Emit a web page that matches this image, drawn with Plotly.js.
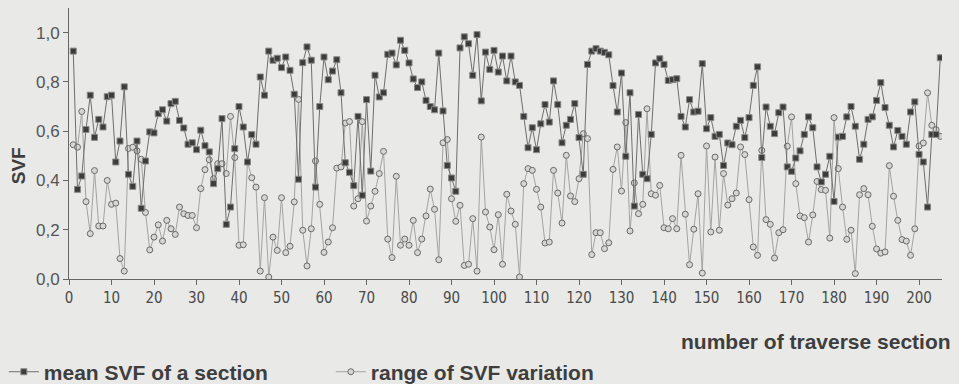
<!DOCTYPE html>
<html>
<head>
<meta charset="utf-8">
<script src="https://cdn.plot.ly/plotly-3.0.1.min.js"></script>
<style>
html,body{margin:0;padding:0;background:#e9e9e7;}
#chart{width:959px;height:384px;}
</style>
</head>
<body>
<div id="chart"></div>
<script>
// traverse section numbers 1..205
var sections = [];
for (var i = 1; i <= 205; i++) sections.push(i);

var meanSVF = [
0.925,0.364,0.418,0.607,0.746,0.575,0.648,0.617,0.74,0.746,
0.475,0.56,0.78,0.425,0.376,0.56,0.287,0.479,0.597,0.593,
0.671,0.687,0.641,0.712,0.721,0.644,0.613,0.547,0.553,0.525,
0.604,0.541,0.516,0.387,0.448,0.651,0.222,0.292,0.529,0.70,
0.617,0.475,0.586,0.547,0.82,0.746,0.925,0.888,0.896,0.858,
0.901,0.847,0.75,0.405,0.878,0.942,0.888,0.373,0.70,0.901,
0.809,0.844,0.89,0.756,0.472,0.433,0.379,0.66,0.34,0.728,
0.438,0.827,0.739,0.756,0.912,0.917,0.869,0.969,0.928,0.877,
0.812,0.777,0.80,0.725,0.70,0.687,0.917,0.682,0.461,0.41,
0.356,0.938,0.983,0.955,0.827,0.992,0.723,0.921,0.851,0.928,
0.84,0.905,0.804,0.905,0.80,0.786,0.66,0.533,0.614,0.525,
0.63,0.708,0.637,0.804,0.708,0.553,0.624,0.648,0.712,0.574,
0.425,0.871,0.925,0.935,0.925,0.92,0.91,0.785,0.678,0.836,
0.498,0.756,0.296,0.668,0.425,0.407,0.587,0.877,0.894,0.871,
0.806,0.809,0.813,0.66,0.617,0.728,0.678,0.681,0.874,0.61,
0.655,0.579,0.587,0.461,0.552,0.545,0.62,0.644,0.574,0.655,
0.786,0.861,0.493,0.698,0.62,0.59,0.675,0.698,0.455,0.437,
0.491,0.52,0.587,0.658,0.614,0.455,0.394,0.425,0.498,0.315,
0.576,0.579,0.658,0.70,0.62,0.486,0.547,0.648,0.658,0.725,
0.797,0.696,0.624,0.536,0.603,0.579,0.547,0.678,0.719,0.506,
0.475,0.292,0.587,0.587,0.898
];

var rangeSVF = [
0.545,0.535,0.68,0.314,0.184,0.44,0.215,0.215,0.40,0.303,
0.308,0.083,0.032,0.53,0.535,0.52,0.486,0.27,0.118,0.17,
0.22,0.154,0.238,0.204,0.181,0.292,0.265,0.258,0.258,0.208,
0.367,0.444,0.484,0.407,0.468,0.468,0.428,0.66,0.493,0.137,
0.139,0.476,0.411,0.373,0.032,0.33,0.008,0.17,0.116,0.33,
0.107,0.133,0.313,0.729,0.198,0.053,0.204,0.479,0.303,0.108,
0.15,0.208,0.45,0.455,0.633,0.639,0.296,0.326,0.639,0.235,
0.296,0.356,0.428,0.518,0.162,0.087,0.417,0.137,0.162,0.137,
0.238,0.107,0.162,0.256,0.365,0.283,0.078,0.553,0.566,0.326,
0.234,0.299,0.055,0.06,0.245,0.032,0.576,0.272,0.211,0.119,
0.261,0.06,0.344,0.276,0.222,0.008,0.387,0.448,0.441,0.364,
0.292,0.146,0.15,0.441,0.349,0.227,0.502,0.337,0.314,0.407,
0.59,0.57,0.099,0.188,0.188,0.123,0.147,0.445,0.536,0.357,
0.635,0.195,0.39,0.265,0.303,0.691,0.346,0.34,0.38,0.208,
0.204,0.245,0.204,0.502,0.263,0.058,0.202,0.346,0.024,0.54,
0.191,0.495,0.198,0.428,0.30,0.326,0.349,0.536,0.505,0.322,
0.13,0.096,0.522,0.241,0.222,0.085,0.188,0.20,0.539,0.658,
0.387,0.256,0.249,0.15,0.26,0.396,0.363,0.36,0.166,0.655,
0.448,0.292,0.161,0.198,0.022,0.342,0.367,0.342,0.214,0.122,
0.105,0.11,0.46,0.336,0.238,0.16,0.154,0.096,0.204,0.54,
0.552,0.756,0.624,0.606,0.579
];

var xTicks = [0,10,20,30,40,50,60,70,80,90,100,110,120,130,140,150,160,170,180,190,200];
var yTicks = [0,0.2,0.4,0.6,0.8,1.0];
var seriesNames = ['mean SVF of a section', 'range of SVF variation'];
var xTitle = 'number of traverse section';
var yTitle = 'SVF';

var narrow = 'DejaVu Sans Condensed, Liberation Sans Narrow, Liberation Sans, Arial';
var boldFont = 'Liberation Sans, Arial';

var traces = [
  {
    x: sections, y: rangeSVF, name: seriesNames[1],
    type: 'scatter', mode: 'lines+markers',
    line: {color: '#a3a3a3', width: 1},
    marker: {symbol: 'circle', size: 6, color: '#d6d6d4', line: {color: '#6a6a6a', width: 1}}
  },
  {
    x: sections, y: meanSVF, name: seriesNames[0],
    type: 'scatter', mode: 'lines+markers',
    line: {color: '#6e6e6e', width: 1},
    marker: {symbol: 'square', size: 6, color: '#3c3c3c', line: {color: '#8a8a8a', width: 1}}
  }
];

var layout = {
  width: 959, height: 384,
  paper_bgcolor: '#e9e9e7', plot_bgcolor: '#e9e9e7',
  margin: {l: 69, r: 17, t: 8, b: 105},
  separators: ',.',
  showlegend: true,
  legend: {
    orientation: 'h', xref: 'container', yref: 'container',
    x: 0.004, xanchor: 'left', y: 0.031, yanchor: 'middle',
    traceorder: 'reversed',
    entrywidth: 282, entrywidthmode: 'pixels',
    font: {family: boldFont, size: 21, color: '#3e3e3e', weight: 'bold'},
    bgcolor: 'rgba(0,0,0,0)'
  },
  xaxis: {
    range: [0, 205.4], tickvals: xTicks, ticktext: xTicks.map(String),
    showgrid: false, zeroline: false, showline: true, linecolor: '#666', linewidth: 1,
    ticks: 'outside', ticklen: 5, tickcolor: '#666',
    tickfont: {family: narrow, size: 15, color: '#4a4a4a'}
  },
  yaxis: {
    range: [0, 1.1], tickvals: yTicks, tickformat: '.1f',
    showgrid: false, zeroline: false, showline: true, linecolor: '#666', linewidth: 1,
    ticks: 'outside', ticklen: 5, tickcolor: '#666',
    tickfont: {family: 'Liberation Sans, Arial', size: 17, color: '#555'}
  },
  annotations: [
    {text: xTitle, xref: 'paper', yref: 'paper', x: 1.013, y: -0.232, xanchor: 'right', yanchor: 'middle',
     showarrow: false, font: {family: boldFont, size: 21, color: '#3e3e3e', weight: 'bold'}},
    {text: yTitle, xref: 'paper', yref: 'paper', x: -0.057, y: 0.417, xanchor: 'center', yanchor: 'middle', textangle: -90,
     showarrow: false, font: {family: boldFont, size: 19, color: '#3e3e3e', weight: 'bold'}}
  ]
};

Plotly.newPlot('chart', traces, layout, {displayModeBar: false, staticPlot: true});
</script>
</body>
</html>
